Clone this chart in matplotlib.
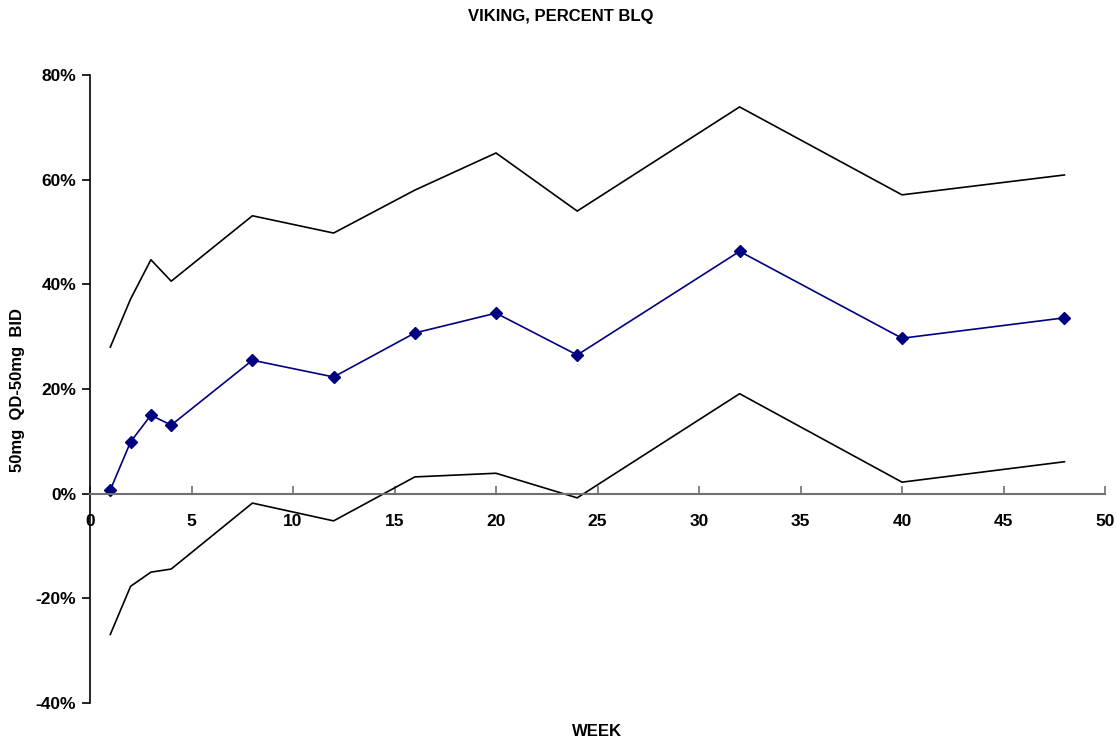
import numpy as np
import matplotlib.pyplot as plt
from matplotlib.ticker import FuncFormatter

plt.rcParams['font.family'] = ['Liberation Sans', 'DejaVu Sans']
plt.rcParams['font.weight'] = 'bold'

# weeks and percent BLQ difference (with CI bounds)
weeks = [1, 2, 3, 4, 8, 12, 16, 20, 24, 32, 40, 48]
diff = [0.7, 9.9, 15.0, 13.1, 25.5, 22.3, 30.7, 34.5, 26.5, 46.3, 29.7, 33.6]
upper = [28.0, 37.2, 44.7, 40.6, 53.1, 49.8, 58.0, 65.1, 54.0, 73.9, 57.1, 60.9]
lower = [-26.9, -17.7, -15.0, -14.4, -1.8, -5.2, 3.2, 3.9, -0.8, 19.1, 2.2, 6.1]

fig = plt.figure(figsize=(11.16, 7.4), dpi=100)
ax = fig.add_axes([90 / 1116, 37 / 740, 1015 / 1116, 628 / 740])

ax.plot(weeks, upper, color='black', lw=1.2)
ax.plot(weeks, lower, color='black', lw=1.2)
ax.plot(weeks, diff, color='#000080', lw=1.2, marker='D', markersize=6,
        markerfacecolor='#000080', markeredgecolor='#000080')

ax.set_xlim(0, 50)
ax.set_ylim(-40, 80)
ax.set_xticks(np.arange(0, 51, 5))
ax.set_yticks(np.arange(-40, 81, 20))
ax.yaxis.set_major_formatter(FuncFormatter(lambda v, p: f'{v:.0f}%'))

ax.spines['top'].set_visible(False)
ax.spines['right'].set_visible(False)
ax.spines['bottom'].set_position(('data', 0))
ax.spines['bottom'].set_color('#707070')
ax.spines['bottom'].set_linewidth(1.5)
ax.spines['left'].set_linewidth(1.2)

ax.tick_params(axis='x', direction='in', length=6, pad=15, labelsize=12.5,
               color='#707070', width=1.2)
ax.tick_params(axis='y', direction='out', length=6, pad=4, labelsize=12.5, width=1.2)
for lbl in ax.get_xticklabels() + ax.get_yticklabels():
    lbl.set_fontweight('bold')

fig.text(561 / 1116, 1 - 17 / 740, 'VIKING, PERCENT BLQ', ha='center', va='center',
         fontsize=12, fontweight='bold')
fig.text(597 / 1116, 1 - 731 / 740, 'WEEK', ha='center', va='center',
         fontsize=12, fontweight='bold')
fig.text(18 / 1116, 1 - 390 / 740, '50mg  QD-50mg  BID', ha='center', va='center',
         rotation=90, fontsize=12, fontweight='bold')

fig.savefig('out.png', dpi=100)
